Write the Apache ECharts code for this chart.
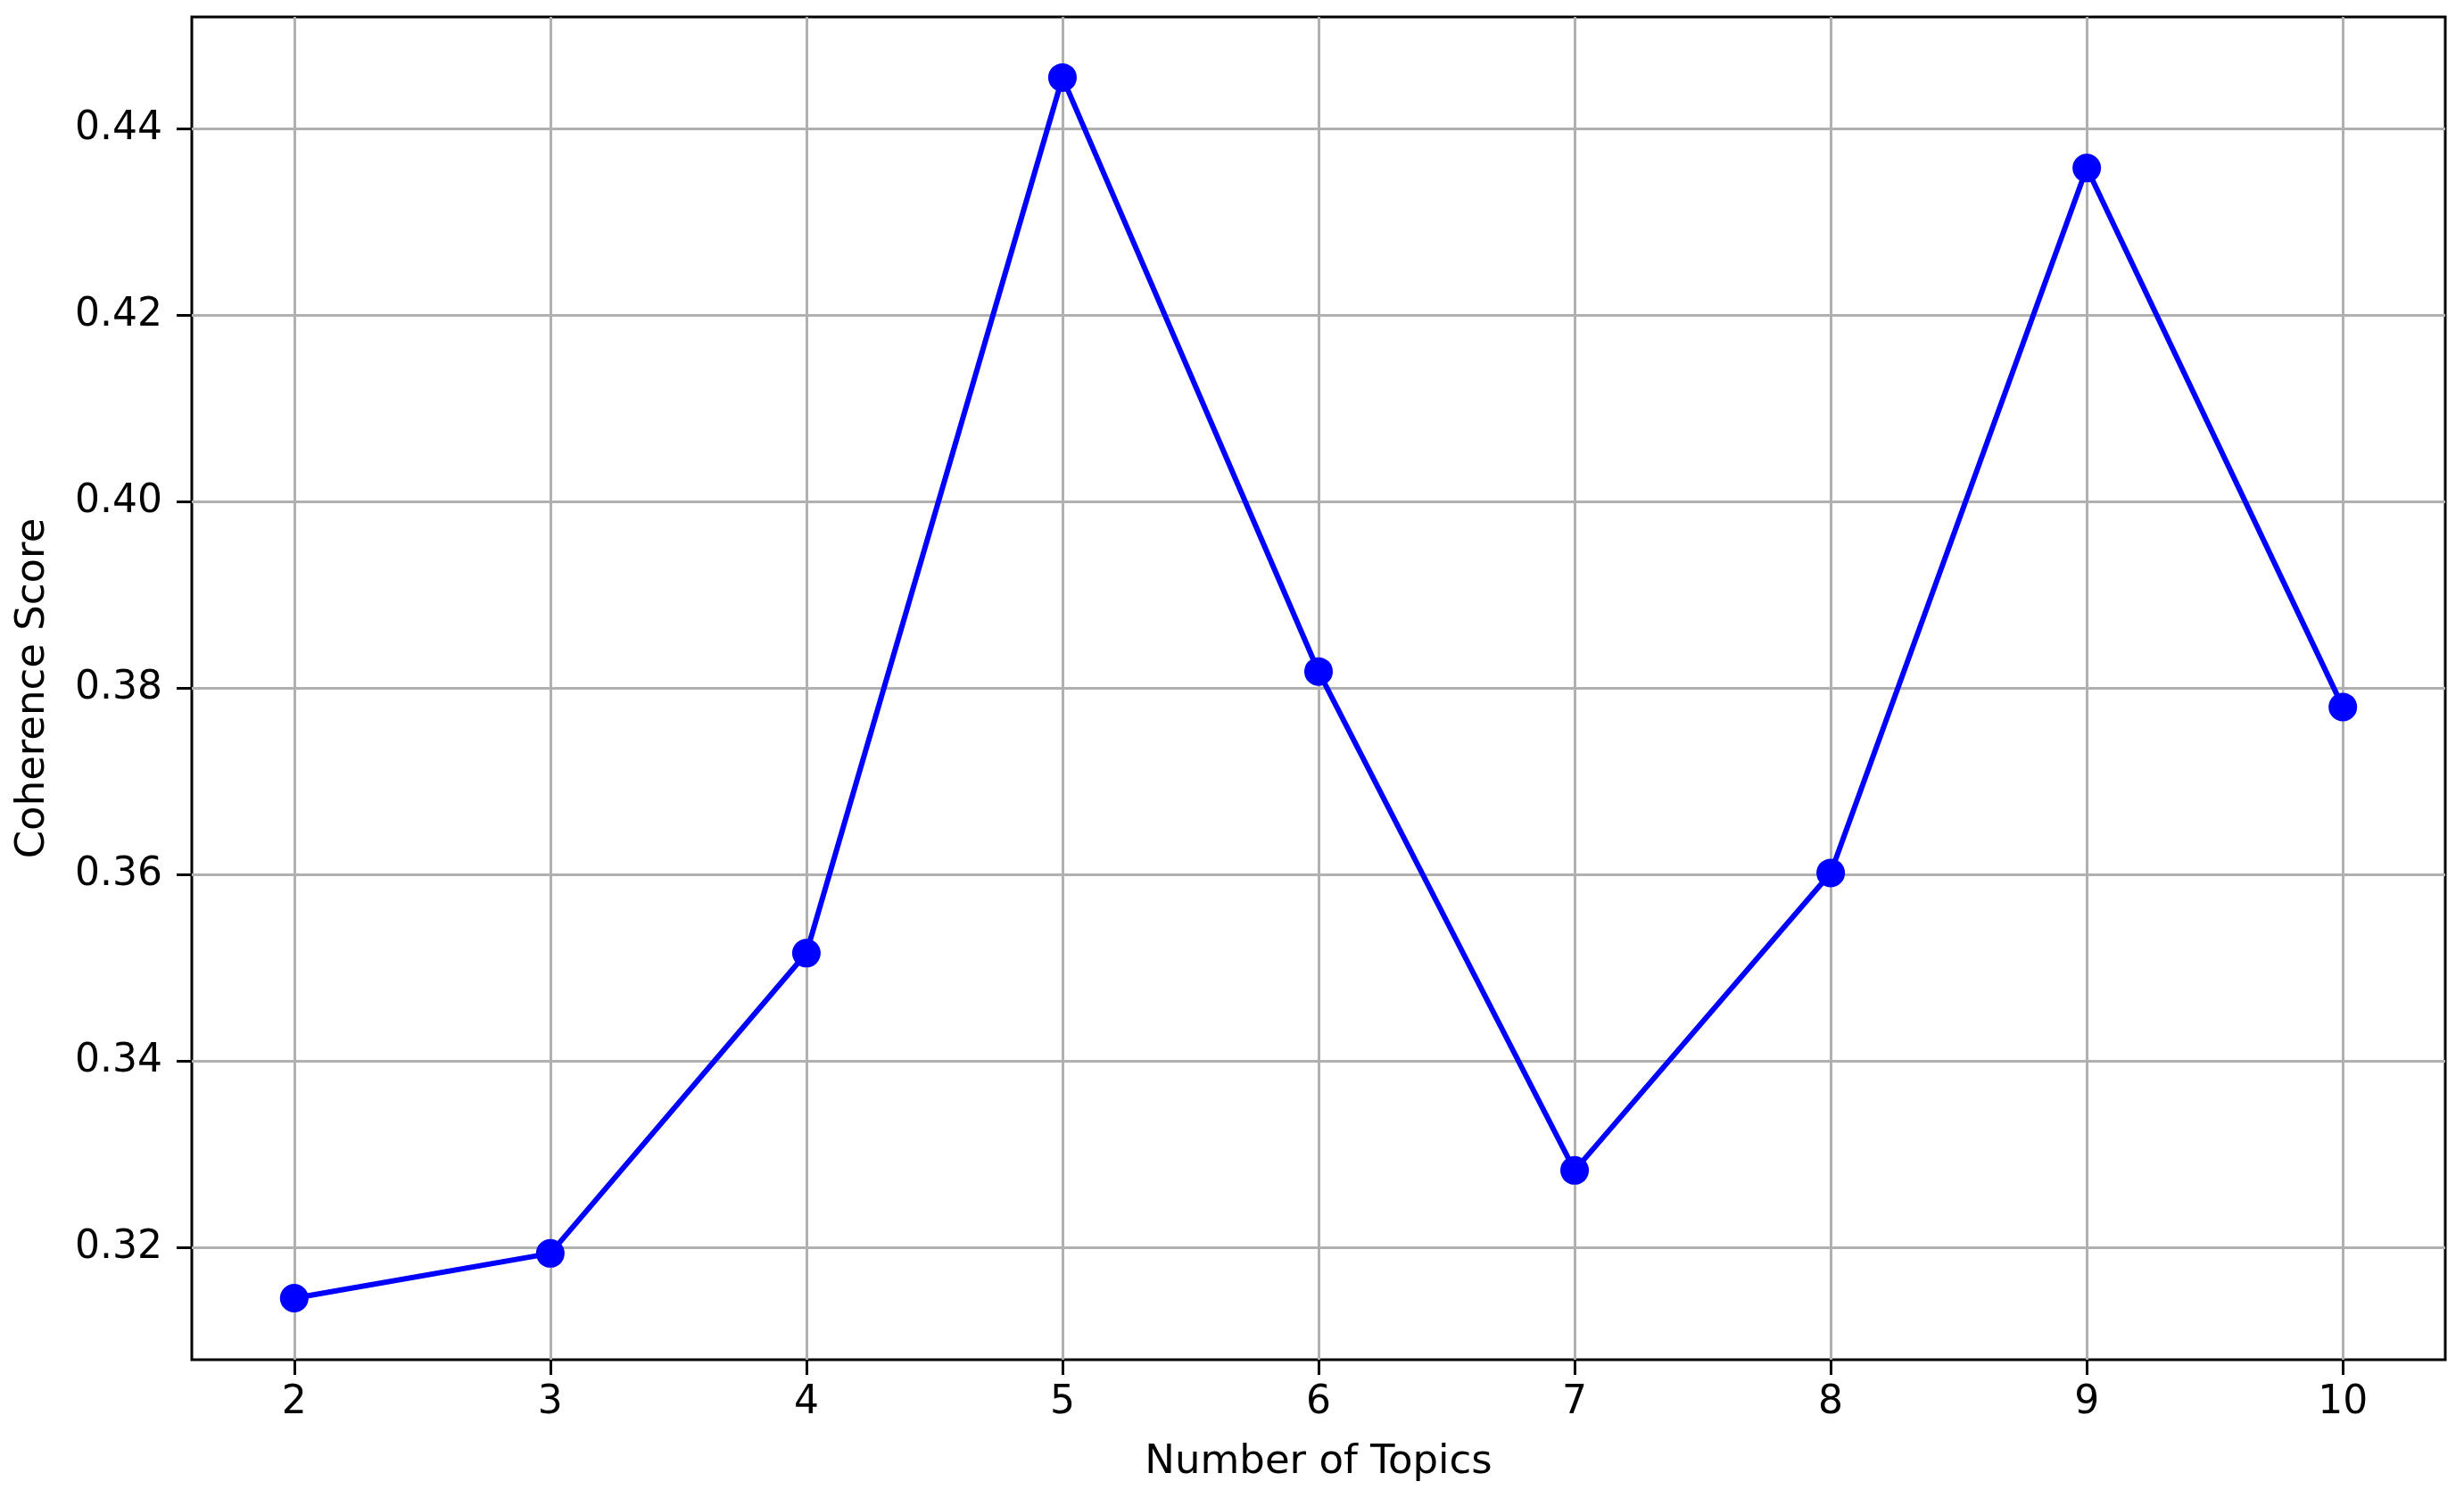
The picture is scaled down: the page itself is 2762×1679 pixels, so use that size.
<!DOCTYPE html>
<html>
<head>
<meta charset="utf-8">
<script src="https://cdn.jsdelivr.net/npm/echarts@6/dist/echarts.min.js"></script>
<style>
html,body{margin:0;padding:0;background:#fff;}
#chart{width:2762px;height:1679px;}
</style>
</head>
<body>
<div id="chart"></div>
<script>
const topics = [2, 3, 4, 5, 6, 7, 8, 9, 10];
const coherence = [0.3146, 0.3194, 0.3516, 0.4455, 0.3818, 0.3283, 0.3602, 0.4358, 0.3780];
const xTicks = [2, 3, 4, 5, 6, 7, 8, 9, 10];
const yTicks = [0.32, 0.34, 0.36, 0.38, 0.40, 0.42, 0.44];
const xTitle = 'Number of Topics';
const yTitle = 'Coherence Score';

const FONT = 'DejaVu Sans';
const chart = echarts.init(document.getElementById('chart'), null, {renderer: 'canvas'});
const gridStyle = {color: '#b0b0b0', width: 3, type: 'solid'};
chart.setOption({
  animation: false,
  backgroundColor: '#fff',
  grid: {left: 215, right: 21, top: 19, bottom: 155, show: true, borderColor: '#000', borderWidth: 3, backgroundColor: '#fff'},
  xAxis: {
    type: 'value', min: 1.6, max: 10.4,
    name: xTitle, nameLocation: 'middle', nameGap: 93,
    nameTextStyle: {fontFamily: FONT, fontSize: 45, color: '#000'},
    axisLine: {show: false},
    splitLine: {show: false},
    axisTick: {show: true, customValues: xTicks, length: 17, lineStyle: {color: '#000', width: 3}},
    axisLabel: {customValues: xTicks, margin: 27, fontFamily: FONT, fontSize: 44, color: '#000',
      formatter: v => String(v)}
  },
  yAxis: {
    type: 'value', min: 0.308, max: 0.452,
    name: yTitle, nameLocation: 'middle', nameGap: 155,
    nameTextStyle: {fontFamily: FONT, fontSize: 45, color: '#000'},
    axisLine: {show: false},
    splitLine: {show: false},
    axisTick: {show: true, customValues: yTicks, length: 17, lineStyle: {color: '#000', width: 3}},
    axisLabel: {customValues: yTicks, margin: 33, fontFamily: FONT, fontSize: 44, color: '#000',
      formatter: v => v.toFixed(2)}
  },
  series: [
    {
      type: 'line', data: [], silent: true, z: 1,
      markLine: {
        silent: true, symbol: 'none', label: {show: false}, animation: false,
        lineStyle: gridStyle,
        data: xTicks.map(v => ({xAxis: v})).concat(yTicks.map(v => ({yAxis: v})))
      }
    },
    {
      type: 'line', z: 5,
      data: topics.map((t, i) => [t, coherence[i]]),
      lineStyle: {color: '#0000ff', width: 6},
      itemStyle: {color: '#0000ff'},
      symbol: 'circle', symbolSize: 32, showSymbol: true
    }
  ]
});
</script>
</body>
</html>
